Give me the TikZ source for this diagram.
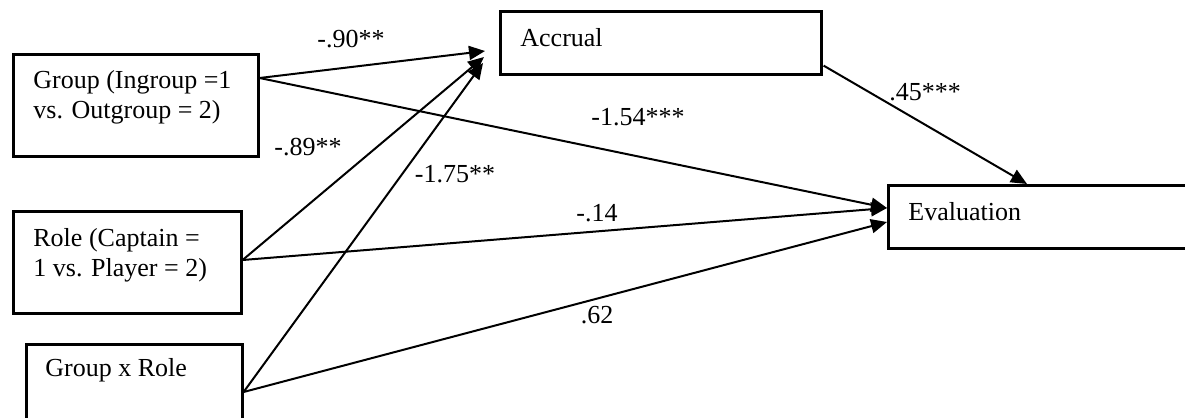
\documentclass[tikz,border=0pt]{standalone}
\usepackage{fontspec}
\setmainfont{Liberation Serif}
\usetikzlibrary{arrows.meta,calc}
\tikzset{
  box/.style={draw, line width=1.3pt, rectangle, inner sep=0pt, anchor=north west},
  txt/.style={inner sep=0pt, anchor=west, align=left, font=\fontsize{13}{15}\selectfont},
  lab/.style={inner sep=0pt, font=\fontsize{13}{15}\selectfont},
  conn/.style={line width=1pt, -{Triangle[length=8pt,width=7pt]}},
}
\begin{document}
\begin{tikzpicture}[x=0.5pt,y=-0.5pt]
\useasboundingbox (0,0) rectangle (1185,418);
% boxes
\node[box, minimum width=122.5pt, minimum height=51pt] (g) at (12,53) {};
\node[box, minimum width=114pt, minimum height=51pt] (r) at (12,210) {};
\node[box, minimum width=108pt, minimum height=50pt] (x) at (25,343) {};
\node[box, minimum width=160.5pt, minimum height=31.5pt] (a) at (499,10) {};
\node[box, minimum width=160pt, minimum height=31.5pt] (e) at (887,184) {};
% texts
\node[txt] (gt) at (33,97) {Group (Ingroup =1\\vs. Outgroup = 2)};
\node[txt] (rt) at (33,255) {Role (Captain =\\1 vs. Player = 2)};
\node[txt] (xt) at (45,370) {Group x Role};
\node[txt] (at) at (520,38) {Accrual};
\node[txt] (et) at (908,212) {Evaluation};
% ports
\coordinate (gout) at ($(g.north east)+(0,25)$);
\coordinate (rout) at ($(r.north east)+(0,50)$);
\coordinate (xout) at ($(x.north east)+(0,49)$);
\coordinate (a1) at ($(a.north west)+(-14,41)$);
\coordinate (a2) at ($(a.north west)+(-15,47)$);
\coordinate (a3) at ($(a.north west)+(-16,53)$);
\coordinate (aout) at ($(a.south east)+(1,-10)$);
\coordinate (e1) at ($(e.north west)+(0,24)$);
\coordinate (e2) at ($(e.north west)+(0,38)$);
\coordinate (etop) at ($(e.north west)+(140,0)$);
% connectors
\draw[conn] (gout) -- (a1);
\draw[conn] (rout) -- (a2);
\draw[conn] (xout) -- (a3);
\draw[conn] (gout) -- (e1);
\draw[conn] (rout) -- (e1);
\draw[conn] (xout) -- (e2);
\draw[conn] (aout) -- (etop);
% labels
\node[lab] (l1) at (351,39) {-.90**};
\node[lab] (l2) at (308,147) {-.89**};
\node[lab] (l3) at (455,174) {-1.75**};
\node[lab] (l4) at (638,117) {-1.54***};
\node[lab] (l5) at (597,213) {-.14};
\node[lab] (l6) at (597,315) {.62};
\node[lab] (l7) at (925,92) {.45***};
\end{tikzpicture}
\end{document}
